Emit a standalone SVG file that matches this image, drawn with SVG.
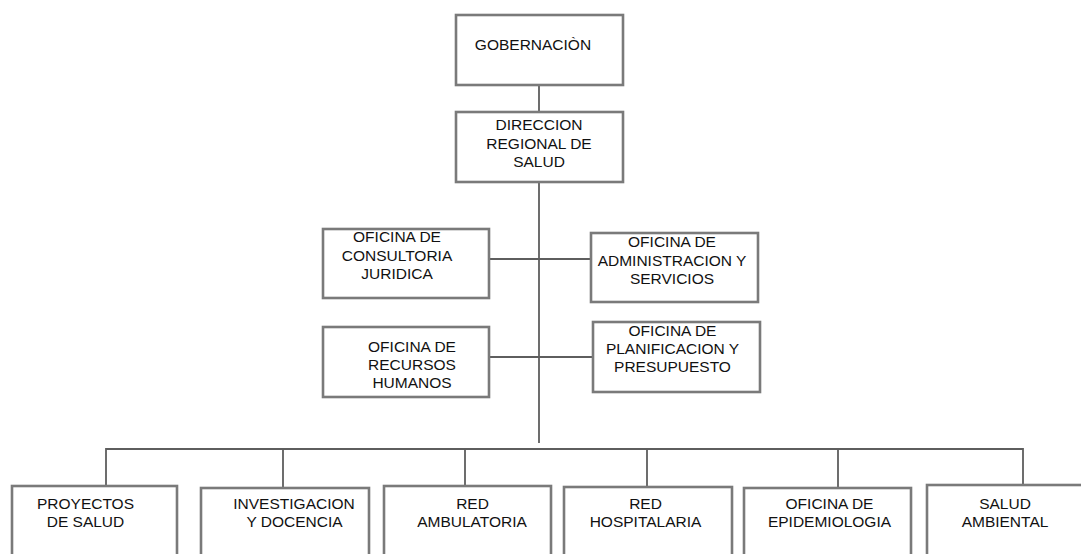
<svg xmlns="http://www.w3.org/2000/svg" width="1081" height="554" viewBox="0 0 1081 554">
  <style>
    .box { fill: #ffffff; stroke: #7a7a7a; stroke-width: 2.6; }
    .lbl { font-family: "Liberation Sans", Arial, sans-serif; font-size: 15.5px; fill: #111111; text-anchor: middle; }
    .link { fill: none; stroke: #5e5e5e; stroke-width: 1.8; }
  </style>
  <rect width="1081" height="554" fill="#ffffff"/>

  <!-- connectors -->
  <g id="connectors">
    <line class="link" x1="539" y1="85" x2="539" y2="112"/>
    <line class="link" x1="539" y1="182" x2="539" y2="443"/>
    <line class="link" x1="489" y1="259" x2="591" y2="259"/>
    <line class="link" x1="489" y1="357" x2="593" y2="357"/>
    <polyline class="link" points="106,486 106,449 1023,449 1023,485"/>
    <line class="link" x1="283" y1="449" x2="283" y2="488"/>
    <line class="link" x1="465" y1="449" x2="465" y2="486"/>
    <line class="link" x1="647" y1="449" x2="647" y2="487"/>
    <line class="link" x1="838" y1="449" x2="838" y2="488"/>
  </g>

  <g id="gobernacion">
    <rect class="box" x="456" y="15" width="167" height="70"/>
    <text class="lbl" x="533" y="50">GOBERNACIÒN</text>
  </g>

  <g id="direccion-regional">
    <rect class="box" x="456" y="112" width="167" height="70"/>
    <text class="lbl" x="539" y="130">DIRECCION</text>
    <text class="lbl" x="539" y="148.5">REGIONAL DE</text>
    <text class="lbl" x="539" y="167">SALUD</text>
  </g>

  <g id="consultoria-juridica">
    <rect class="box" x="323" y="229" width="166" height="69"/>
    <text class="lbl" x="397" y="242">OFICINA DE</text>
    <text class="lbl" x="397" y="260.5">CONSULTORIA</text>
    <text class="lbl" x="397" y="279">JURIDICA</text>
  </g>

  <g id="administracion-servicios">
    <rect class="box" x="591" y="233" width="167" height="69"/>
    <text class="lbl" x="672" y="247">OFICINA DE</text>
    <text class="lbl" x="672" y="265.5">ADMINISTRACION Y</text>
    <text class="lbl" x="672" y="284">SERVICIOS</text>
  </g>

  <g id="recursos-humanos">
    <rect class="box" x="323" y="327" width="166" height="70"/>
    <text class="lbl" x="412" y="352">OFICINA DE</text>
    <text class="lbl" x="412" y="370">RECURSOS</text>
    <text class="lbl" x="412" y="388">HUMANOS</text>
  </g>

  <g id="planificacion-presupuesto">
    <rect class="box" x="593" y="322" width="167" height="70"/>
    <text class="lbl" x="672.5" y="336">OFICINA DE</text>
    <text class="lbl" x="672.5" y="354">PLANIFICACION Y</text>
    <text class="lbl" x="672.5" y="372">PRESUPUESTO</text>
  </g>

  <g id="proyectos-salud">
    <rect class="box" x="12" y="486" width="165" height="80"/>
    <text class="lbl" x="85.5" y="509">PROYECTOS</text>
    <text class="lbl" x="85.5" y="527">DE SALUD</text>
  </g>

  <g id="investigacion-docencia">
    <rect class="box" x="201" y="488" width="168" height="80"/>
    <text class="lbl" x="294" y="509">INVESTIGACION</text>
    <text class="lbl" x="294.5" y="527">Y DOCENCIA</text>
  </g>

  <g id="red-ambulatoria">
    <rect class="box" x="384" y="486" width="167" height="80"/>
    <text class="lbl" x="472.5" y="509">RED</text>
    <text class="lbl" x="472" y="527">AMBULATORIA</text>
  </g>

  <g id="red-hospitalaria">
    <rect class="box" x="564" y="487" width="168" height="80"/>
    <text class="lbl" x="645.5" y="509">RED</text>
    <text class="lbl" x="645.5" y="527">HOSPITALARIA</text>
  </g>

  <g id="epidemiologia">
    <rect class="box" x="744" y="488" width="167" height="80"/>
    <text class="lbl" x="829.5" y="509">OFICINA DE</text>
    <text class="lbl" x="829.5" y="527">EPIDEMIOLOGIA</text>
  </g>

  <g id="salud-ambiental">
    <rect class="box" x="927" y="485" width="167" height="80"/>
    <text class="lbl" x="1005" y="509">SALUD</text>
    <text class="lbl" x="1005" y="527">AMBIENTAL</text>
  </g>
</svg>
